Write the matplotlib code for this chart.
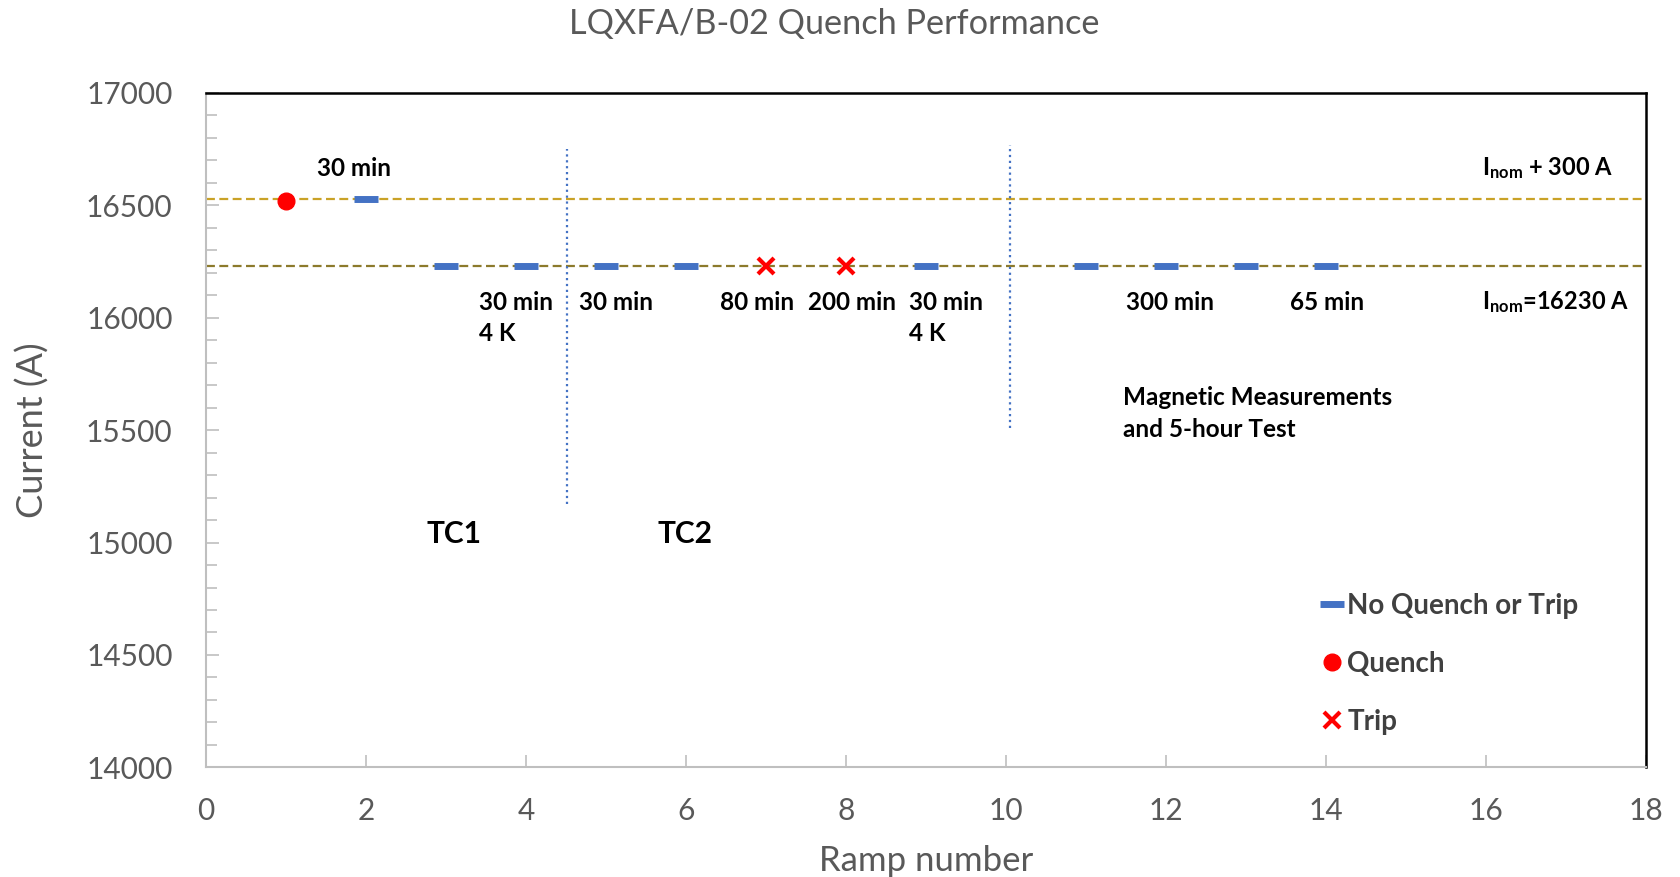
import matplotlib.pyplot as plt
from matplotlib.lines import Line2D

plt.rcParams['font.family'] = ['Lato', 'DejaVu Sans']
plt.rcParams['mathtext.default'] = 'regular'

# ramp data
ok_ramps = [2, 3, 4, 5, 6, 9, 11, 12, 13, 14]
ok_current = [16530, 16230, 16230, 16230, 16230, 16230, 16230, 16230, 16230, 16230]
quench_ramps = [1]
quench_current = [16520]
trip_ramps = [7, 8]
trip_current = [16230, 16230]

i_nom = 16230
i_high = 16530
tc_bounds = [4.52, 10.05]
tc_spans = [(15170, 16750), (15510, 16770)]

# annotations: (x, y, text)
notes = [
    (1.39, 16665, "30 min"),
    (3.42, 16070, "30 min"),
    (3.42, 15930, "4 K"),
    (4.66, 16070, "30 min"),
    (6.43, 16070, "80 min"),
    (7.53, 16070, "200 min"),
    (8.79, 16070, "30 min"),
    (8.79, 15930, "4 K"),
    (11.5, 16070, "300 min"),
    (13.55, 16070, "65 min"),
    (11.46, 15645, "Magnetic Measurements"),
    (11.46, 15505, "and 5-hour Test"),
]

fig = plt.figure(figsize=(16.81, 8.77), dpi=100)
ax = fig.add_axes([0.1225, 0.125, 0.8565, 0.769])

ax.axhline(i_high, color='#C9A227', ls=(0, (4, 2)), lw=1.6, zorder=1)
ax.axhline(i_nom, color='#8C7A2C', ls=(0, (4, 2)), lw=1.6, zorder=1)
for xb, (y0, y1) in zip(tc_bounds, tc_spans):
    ax.plot([xb, xb], [y0, y1], color='#4472C4', ls=':', lw=1.6, zorder=1)

ax.plot(ok_ramps, ok_current, ls='none', marker='_', ms=17, mew=5,
        color='#4472C4', zorder=3)
ax.plot(quench_ramps, quench_current, ls='none', marker='o', ms=12,
        color='#FF0000', zorder=3)
ax.plot(trip_ramps, trip_current, ls='none', marker='x', ms=11, mew=3,
        color='#FF0000', zorder=3)

for x, y, s in notes:
    ax.text(x, y, s, fontsize=17.5, fontweight='bold', va='center', ha='left')

ax.text(15.95, i_high + 135, r"I$_{nom}$ + 300 A", fontsize=17,
        fontweight='bold', va='center')
ax.text(15.95, 16070, r"I$_{nom}$=16230 A", fontsize=17,
        fontweight='bold', va='center')
ax.text(2.76, 15040, "TC1", fontsize=21.5, fontweight='bold', va='center')
ax.text(5.64, 15040, "TC2", fontsize=21.5, fontweight='bold', va='center')

ax.set_xlim(0, 18)
ax.set_ylim(14000, 17000)
ax.set_xticks(range(0, 19, 2))
ax.set_yticks(range(14000, 17001, 500))
ax.set_yticks(range(14000, 17001, 100), minor=True)
ax.tick_params(axis='both', direction='in', colors='#BFBFBF', labelcolor='#595959',
               labelsize=21.5, length=9, width=1.2)
ax.tick_params(axis='y', which='minor', direction='in', colors='#BFBFBF', length=8,
               width=1.2)
ax.tick_params(axis='x', pad=21)
ax.tick_params(axis='y', pad=24)

for side in ['left', 'bottom']:
    ax.spines[side].set_color('#BFBFBF')
    ax.spines[side].set_linewidth(1.5)
for side in ['top', 'right']:
    ax.spines[side].set_color('black')
    ax.spines[side].set_linewidth(1.8)

ax.set_xlabel("Ramp number", fontsize=25, color='#595959', labelpad=15)
ax.set_ylabel("Current (A)", fontsize=26, color='#595959', labelpad=26)
fig.text(0.496, 0.973, "LQXFA/B-02 Quench Performance", fontsize=24.7,
         color='#595959', ha='center', va='center')

handles = [
    Line2D([], [], ls='none', marker='_', ms=17, mew=5, color='#4472C4'),
    Line2D([], [], ls='none', marker='o', ms=12, color='#FF0000'),
    Line2D([], [], ls='none', marker='x', ms=11, mew=3, color='#FF0000'),
]
leg = ax.legend(handles, ["No Quench or Trip", "Quench", "Trip"],
                loc='lower left', bbox_to_anchor=(0.757, 0.011), frameon=False,
                prop={'size': 20, 'weight': 'bold'}, labelspacing=1.15,
                handlelength=0.8, handletextpad=0.15)
for t in leg.get_texts():
    t.set_color('#404040')

fig.savefig('out.png', dpi=100)
